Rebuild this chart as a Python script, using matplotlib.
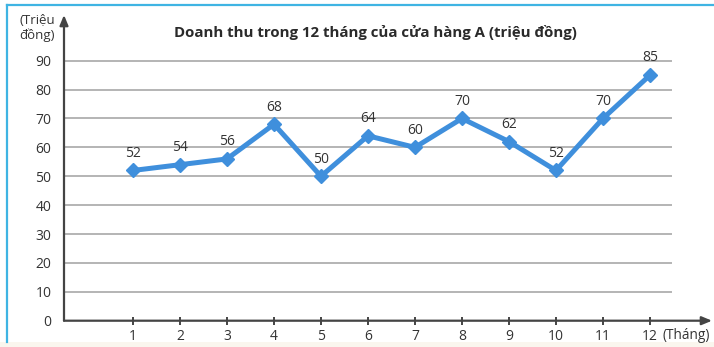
import matplotlib
matplotlib.use("Agg")
from matplotlib import pyplot as plt
from matplotlib.lines import Line2D
from matplotlib.patches import Rectangle

plt.rcParams['font.family'] = ['Open Sans', 'DejaVu Sans']

# data
months = [1, 2, 3, 4, 5, 6, 7, 8, 9, 10, 11, 12]
revenue = [52, 54, 56, 68, 50, 64, 60, 70, 62, 52, 70, 85]
y_ticks = [0, 10, 20, 30, 40, 50, 60, 70, 80, 90]
title = 'Doanh thu trong 12 tháng của cửa hàng A (triệu đồng)'

W, H = 714, 347
fig = plt.figure(figsize=(W / 100, H / 100), dpi=100)
fig.patch.set_facecolor('white')

# frame decorations
fig.add_artist(Rectangle((0, 0), 1, 5 / H, transform=fig.transFigure,
                         facecolor='#faf6ee', edgecolor='none'))
fig.add_artist(Line2D([7 / W, 7 / W], [5 / H, 1 - 5 / H], transform=fig.transFigure,
                      color='#3fb4e3', lw=1.6))
fig.add_artist(Line2D([7 / W, 1], [1 - 5 / H, 1 - 5 / H], transform=fig.transFigure,
                      color='#3fb4e3', lw=1.6))

ax_l, ax_b = 64 / W, (H - 320.7) / H
ax_w, ax_h = (712 - 64) / W, (320.7 - 15) / H
ax = fig.add_axes([ax_l, ax_b, ax_w, ax_h])
ax.set_facecolor('none')

x_min, x_max = -0.468, 13.32
y_max = (320.7 - 15) / 2.889
ax.set_xlim(x_min, x_max)
ax.set_ylim(0, y_max)

grid_end = 12.45
for v in y_ticks[1:]:
    ax.plot([x_min, grid_end], [v, v], color='#b4b4b4', lw=1.4, zorder=1)

ax.plot(months, revenue, color='#3f8fdc', lw=3.6, marker='D', markersize=7,
        zorder=3, solid_joinstyle='round')
for m, r in zip(months, revenue):
    ax.annotate(str(r), (m, r), xytext=(0, 7), textcoords='offset points',
                ha='center', va='bottom', fontsize=10, color='#333333')

for s in ax.spines.values():
    s.set_visible(False)

axis_col = '#444444'
ax.annotate('', xy=(0, 1), xytext=(0, 0), xycoords='axes fraction',
            arrowprops=dict(arrowstyle='-|>,head_length=0.6,head_width=0.25',
                            color=axis_col, lw=1.6, shrinkA=0, shrinkB=0))
ax.annotate('', xy=(1, 0), xytext=(0, 0), xycoords='axes fraction',
            arrowprops=dict(arrowstyle='-|>,head_length=0.6,head_width=0.25',
                            color=axis_col, lw=1.6, shrinkA=0, shrinkB=0))

ax.set_xticks(months)
ax.set_xticklabels([str(m) for m in months])
ax.set_yticks(y_ticks)
ax.set_yticklabels([str(v) for v in y_ticks])
ax.tick_params(axis='x', direction='inout', length=6, width=1.4, color=axis_col,
               labelsize=10, labelcolor='#333333', pad=3)
ax.tick_params(axis='y', length=0, labelsize=10, labelcolor='#333333', pad=9)

fig.text(1 - 4 / W, ax_b - 7 / H, '(Tháng)', ha='right', va='top', fontsize=9.8,
         color='#333333')
fig.text(37 / W, 1 - 28 / H, '(Triệu\nđồng)', ha='center', va='center',
         fontsize=9.5, color='#333333', linespacing=1.15)
fig.text(375 / W, 1 - 32 / H, title, ha='center', va='center', fontsize=10.8,
         fontweight='bold', color='#2a2a2a')

fig.savefig('out.png', dpi=100)
